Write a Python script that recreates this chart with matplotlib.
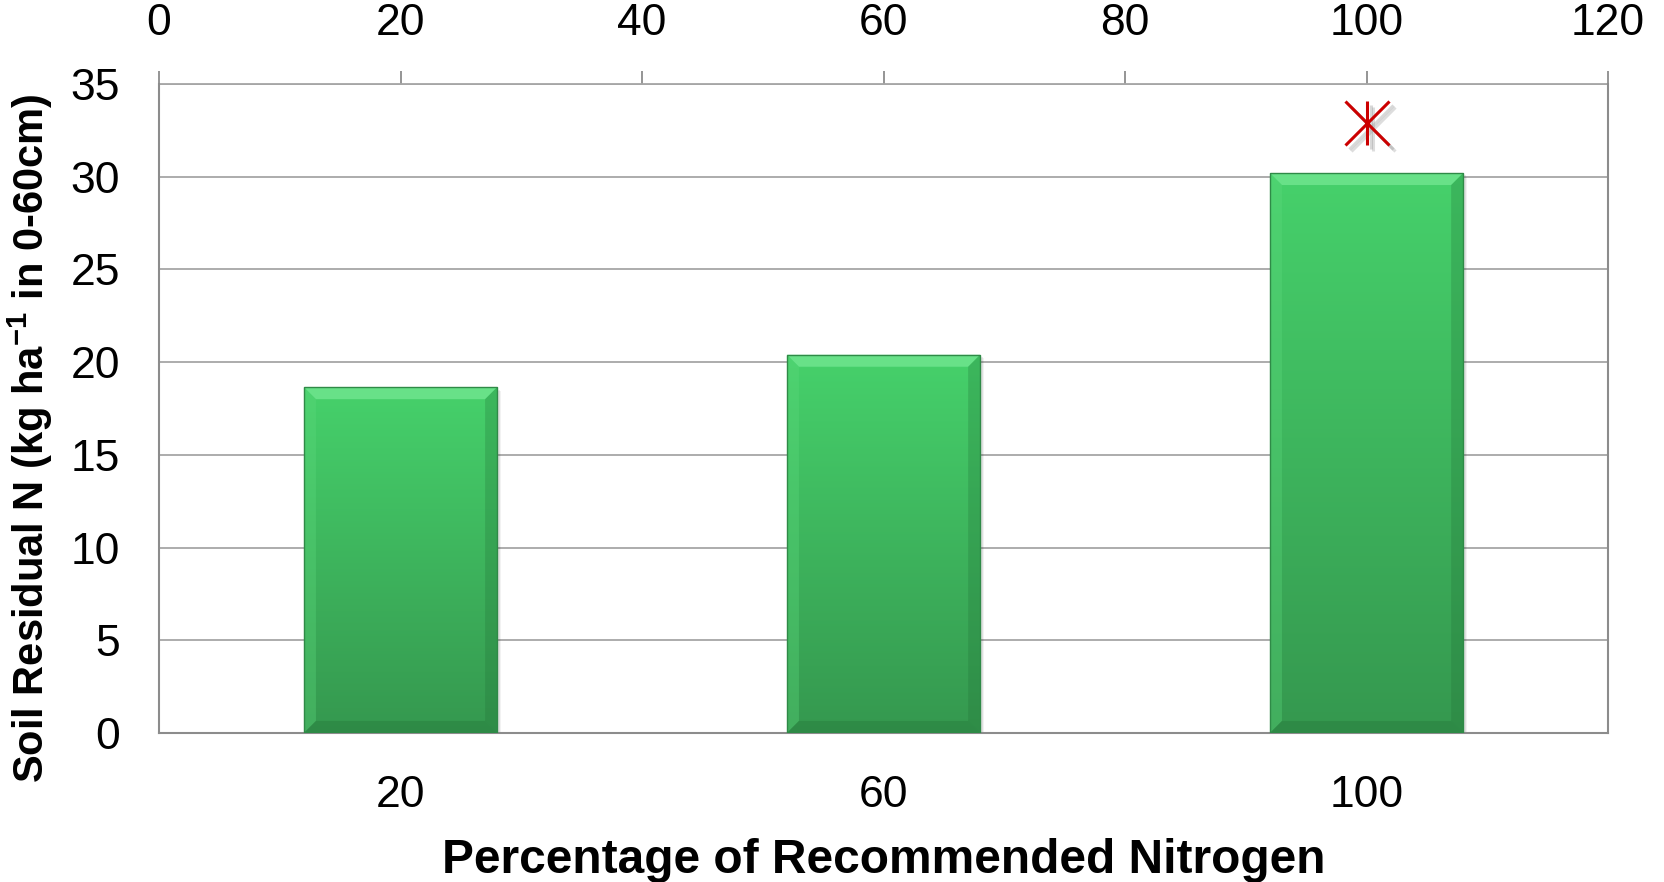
import numpy as np
import matplotlib.pyplot as plt
from matplotlib.patches import Polygon, Rectangle

plt.rcParams['font.family'] = ['Liberation Sans', 'DejaVu Sans']

# N rate (% of recommendation) and residual soil N
n_rate = [20, 60, 100]
residual_n = [18.65, 20.4, 30.2]
# significance marker
sig_x = [100]
sig_y = [32.9]

bar_width = 16
top_ticks = [0, 20, 40, 60, 80, 100, 120]
y_ticks = [0, 5, 10, 15, 20, 25, 30, 35]

grey = '#8C8C8C'

fig = plt.figure(figsize=(16.65, 8.82), dpi=100)
ax = fig.add_axes([0.0955, 0.169, 0.8703, 0.7357])

ax.set_xlim(0, 120)
ax.set_ylim(0, 35)

# gridlines
for yv in y_ticks[1:]:
    ax.axhline(yv, color='#A6A6A6', lw=1.3, zorder=1)

# px -> data conversion for the bevel sizes
px_x = 120 / 1449.0
px_y = 35 / 649.0
grad = np.linspace(0, 1, 256).reshape(-1, 1)
top_col = np.array([0x46, 0xD1, 0x6B]) / 255.0
bot_col = np.array([0x35, 0x98, 0x4F]) / 255.0
img = top_col * (1 - grad[..., None]) + bot_col * grad[..., None]
img = img.reshape(256, 1, 3)

for x, h in zip(n_rate, residual_n):
    x0, x1 = x - bar_width / 2, x + bar_width / 2
    # soft shadow
    for k, a in [(6, 0.05), (4, 0.08), (2, 0.12)]:
        ax.add_patch(Rectangle((x0 + k * px_x * 0.6, -k * px_y * 0.6), bar_width, h,
                               color='black', alpha=a, lw=0, zorder=2))
    im = ax.imshow(img, extent=[x0, x1, 0, h], aspect='auto', zorder=3,
                   origin='upper', interpolation='bilinear')
    rect = Rectangle((x0, 0), bar_width, h, transform=ax.transData)
    im.set_clip_path(rect)
    bx, by = 12 * px_x, 12 * px_y
    # bevel faces
    ax.add_patch(Polygon([(x0, h), (x1, h), (x1 - bx, h - by), (x0 + bx, h - by)],
                         closed=True, color='#74E893', alpha=0.75, lw=0, zorder=4))
    ax.add_patch(Polygon([(x0, 0), (x0, h), (x0 + bx, h - by), (x0 + bx, by)],
                         closed=True, color='#5CD97C', alpha=0.35, lw=0, zorder=4))
    ax.add_patch(Polygon([(x1, 0), (x1, h), (x1 - bx, h - by), (x1 - bx, by)],
                         closed=True, color='#1F6B33', alpha=0.25, lw=0, zorder=4))
    ax.add_patch(Polygon([(x0, 0), (x1, 0), (x1 - bx, by), (x0 + bx, by)],
                         closed=True, color='#1F6B33', alpha=0.3, lw=0, zorder=4))
    ax.add_patch(Rectangle((x0, 0), bar_width, h, fill=False, ec='#2F8A47',
                           lw=1.0, zorder=5))

# asterisk marker with a grey drop shadow
for dx, dy, c, a in [(6 * px_x, -6 * px_y, '#A0A0A0', 0.35),
                     (4 * px_x, -4 * px_y, '#909090', 0.35),
                     (0, 0, '#CC0000', 1.0)]:
    xs = [v + dx for v in sig_x]
    ys = [v + dy for v in sig_y]
    ax.plot(xs, ys, ls='none', marker='x', ms=31, mew=2.2, color=c, alpha=a, zorder=6)
    ax.plot(xs, ys, ls='none', marker='|', ms=31, mew=2.2, color=c, alpha=a, zorder=6)

ax.set_xticks(n_rate)
ax.set_xticklabels([str(v) for v in n_rate])
ax.set_yticks(y_ticks)
ax.tick_params(axis='x', length=0, pad=30, labelsize=32)
ax.tick_params(axis='y', length=0, pad=28, labelsize=32)

for side in ['left', 'right', 'bottom']:
    ax.spines[side].set_color(grey)
    ax.spines[side].set_linewidth(1.5)
ax.spines['top'].set_visible(False)

top = ax.secondary_xaxis('top')
top.set_xticks(top_ticks)
top.tick_params(direction='out', length=9.5, width=1.3, color=grey, pad=19, labelsize=32)
top.spines['top'].set_color('#A6A6A6')
top.spines['top'].set_linewidth(1.3)

ax.set_xlabel('Percentage of Recommended Nitrogen', fontsize=34.5, fontweight='bold')
ax.xaxis.set_label_coords(0.5, -0.162)
ax.xaxis.label.set_va('top')
ax.set_ylabel('Soil Residual N (kg ha$^{\\mathregular{-1}}$ in 0-60cm)', fontsize=30,
              fontweight='bold')
ax.yaxis.set_label_coords(-0.0715, 0.454)

fig.savefig('out.png', dpi=100)
